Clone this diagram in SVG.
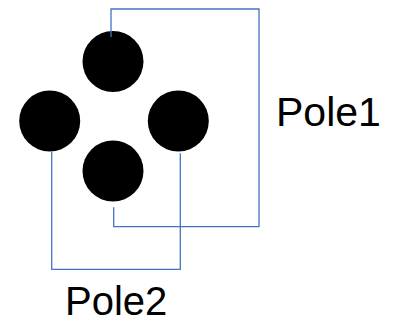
<svg xmlns="http://www.w3.org/2000/svg" width="404" height="324" viewBox="0 0 404 324">
<style>
.pin{fill:#000}
.wire{fill:none;stroke:#4472C4;stroke-width:1.3}
.lbl{font-family:"Liberation Sans",Arial,sans-serif;font-size:41px;fill:#000}
</style>
<rect width="404" height="324" fill="#fff"/>
<g id="pin-top"><circle class="pin" cx="113" cy="61.5" r="30.5"/></g>
<g id="pin-left"><circle class="pin" cx="49.7" cy="121" r="30.5"/></g>
<g id="pin-right"><circle class="pin" cx="178.3" cy="121" r="30.5"/></g>
<g id="pin-bottom"><circle class="pin" cx="113" cy="171" r="30.5"/></g>
<g id="connectors">
<polyline class="wire" points="111,37 111,9 259,9 259,226.7 113.7,226.7 113.7,207.3"/>
<polyline class="wire" points="51.7,151.7 51.7,269.3 180.3,269.3 180.3,153.3"/>
</g>
<g id="label-pole1"><text class="lbl" x="276" y="126">Pole1</text></g>
<g id="label-pole2"><text class="lbl" x="65" y="315" style="font-size:40px">Pole2</text></g>
</svg>
